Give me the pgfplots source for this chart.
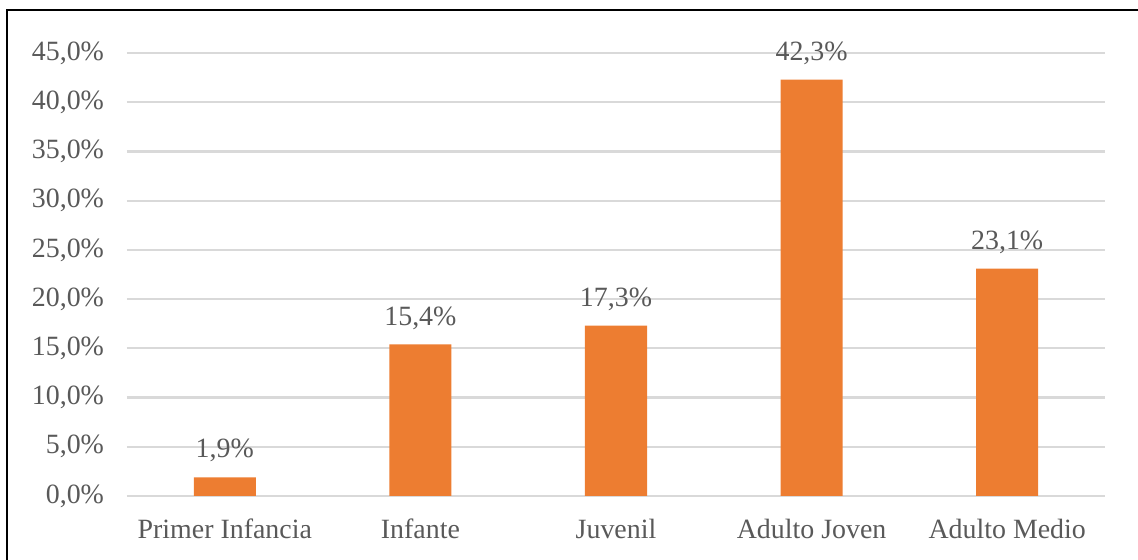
\documentclass[border=0pt]{standalone}
\usepackage{fontspec}
\setmainfont{Liberation Serif}
\usepackage{pgfplots}
\pgfplotsset{compat=1.18}
\definecolor{barorange}{HTML}{ED7D31}
\definecolor{txtgray}{HTML}{595959}
\definecolor{gridgray}{HTML}{D9D9D9}
\begin{document}
\begin{tikzpicture}
\path[use as bounding box] (-63.5bp,-32bp) rectangle (505.5bp,248bp);
\draw[line width=1.2bp,black] (-60bp,-32bp) -- (-60bp,243bp) -- (505.5bp,243bp);
\begin{axis}[
  at={(0,0)}, anchor=south west,
  scale only axis,
  width=489bp, height=221.5bp,
  xmin=-0.5, xmax=4.5,
  ymin=0, ymax=45,
  ytick={0,5,...,45},
  yticklabel={\pgfmathprintnumber[fixed,fixed zerofill,precision=1,use comma]{\tick}\%},
  /pgf/number format/assume math mode=true,
  xtick=data,
  xticklabels={Primer Infancia,Infante,Juvenil,Adulto Joven,Adulto Medio},
  axis line style={draw=none},
  major tick length=0pt,
  ymajorgrids,
  grid style={gridgray, line width=1.1bp},
  tick label style={font=\fontsize{14}{16}\selectfont, text=txtgray},
  yticklabel style={xshift=-8bp},
  xticklabel style={yshift=-8bp},
  ybar, bar width=31bp,
  nodes near coords={\pgfmathprintnumber[fixed,fixed zerofill,precision=1,use comma]{\pgfplotspointmeta}\%},
  nodes near coords style={font=\fontsize{14}{16}\selectfont, text=txtgray, anchor=south, yshift=4bp},
  clip=false,
]
\addplot[fill=barorange, draw=none] coordinates {(0,1.9) (1,15.4) (2,17.3) (3,42.3) (4,23.1)};
\end{axis}
\end{tikzpicture}
\end{document}
